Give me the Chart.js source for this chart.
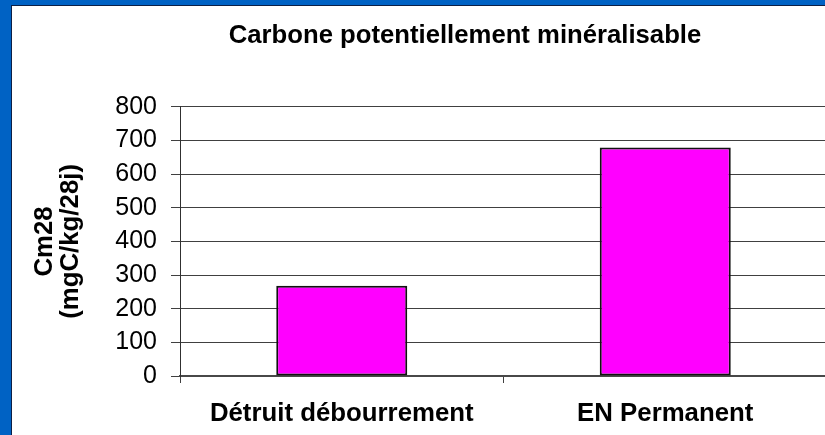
<!DOCTYPE html>
<html>
<head>
<meta charset="utf-8">
<script src="https://cdn.jsdelivr.net/npm/chart.js@4/dist/chart.umd.min.js"></script>
<style>
  html, body { margin: 0; padding: 0; }
  body { width: 825px; height: 435px; background: #0062c4; position: relative; overflow: hidden; }
  #frame { position: absolute; left: 11px; top: 5px; width: 813px; height: 429px;
           border-left: 1px solid #0d1f45; border-top: 1px solid #0d1f45;
           background: #ffffff; overflow: hidden; }
  #wrap { position: absolute; left: 0; top: 0; width: 815px; height: 429px; }
</style>
</head>
<body>
<div id="frame"><div id="wrap"><canvas id="c" width="815" height="429"></canvas></div></div>
<script>
const chartTitle = 'Carbone potentiellement minéralisable';
const yAxisTitle = ['Cm28', '(mgC/kg/28j)'];
const categories = ['Détruit débourrement', 'EN Permanent'];
const cm28Values = [268, 679];
const yMin = 0, yMax = 800, yStep = 100;

const FONT = "'Liberation Sans', Arial, Helvetica, sans-serif";

new Chart(document.getElementById('c'), {
  type: 'bar',
  data: {
    labels: categories,
    datasets: [{
      label: 'Cm28',
      data: cm28Values,
      backgroundColor: '#ff00ff',
      borderColor: '#111111',
      borderWidth: 2,
      borderSkipped: false,
      barPercentage: 0.405,
      categoryPercentage: 1.0
    }]
  },
  options: {
    responsive: false,
    animation: false,
    devicePixelRatio: 1,
    layout: { padding: { left: 91, right: 0, top: 0, bottom: 7 } },
    plugins: {
      legend: { display: false },
      tooltip: { enabled: false },
      title: {
        display: true,
        text: chartTitle,
        color: '#000',
        font: { family: FONT, size: 25.7, weight: 'bold', lineHeight: 1.2 },
        padding: { top: 14, bottom: 56 }
      }
    },
    scales: {
      x: {
        afterFit: (s) => { s.height = 52; },
        grid: { display: true, drawOnChartArea: false, drawTicks: true, tickLength: 7, color: '#404040', offset: true },
        border: { display: true, color: '#484848', width: 2 },
        ticks: { color: '#000', padding: 15, font: { family: FONT, size: 25.8, weight: 'bold', lineHeight: 1.2 }, maxRotation: 0, autoSkip: false }
      },
      y: {
        min: yMin, max: yMax,
        afterFit: (s) => { s.width = 77; },
        grid: { color: '#404040', tickLength: 9, drawTicks: true },
        border: { display: true, color: '#303030', width: 1 },
        ticks: { stepSize: yStep, autoSkip: false, color: '#000', padding: 14, font: { family: FONT, size: 25, lineHeight: 1.0 } },
        title: {
          display: true,
          text: yAxisTitle,
          color: '#000',
          font: { family: FONT, size: 25.8, weight: 'bold', lineHeight: 1.0 },
          padding: { top: -71, bottom: 0 }
        }
      }
    }
  }
});
</script>
</body>
</html>
